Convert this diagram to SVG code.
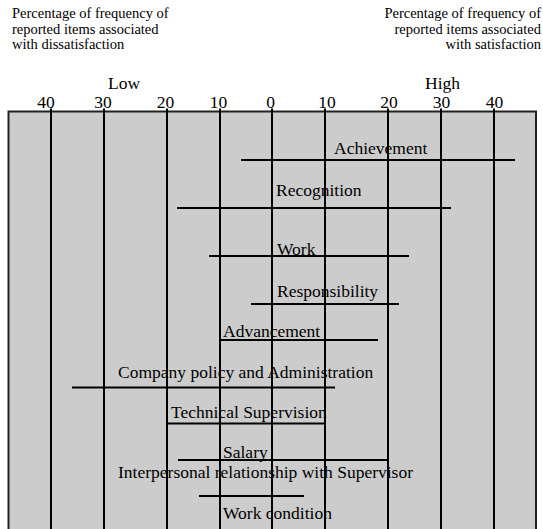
<svg xmlns="http://www.w3.org/2000/svg" width="543" height="529" viewBox="0 0 543 529">
  <style>
    text { font-family: "Liberation Serif", "Times New Roman", serif; fill: #000; }
    .note { font-size: 14.5px; }
    .axis { font-size: 17.5px; }
    .tick { font-size: 17.5px; text-anchor: middle; }
    .label { font-size: 17.5px; }
    .grid { stroke: #000; stroke-width: 2; }
    .bar { stroke: #000; stroke-width: 2; }
  </style>

  <!-- Captions -->
  <g id="caption-left" class="note">
    <text x="12" y="18">Percentage of frequency of</text>
    <text x="12" y="33.5">reported items associated</text>
    <text x="12" y="49">with dissatisfaction</text>
  </g>
  <g id="caption-right" class="note" text-anchor="end">
    <text x="541" y="18">Percentage of frequency of</text>
    <text x="541" y="33.5">reported items associated</text>
    <text x="541" y="49">with satisfaction</text>
  </g>

  <!-- Scale -->
  <g id="scale">
    <text class="axis" x="108" y="88.5">Low</text>
    <text class="axis" x="425" y="88.5">High</text>
    <text class="tick" x="46" y="107.5">40</text>
    <text class="tick" x="103" y="107.5">30</text>
    <text class="tick" x="165.5" y="107.5">20</text>
    <text class="tick" x="218.5" y="107.5">10</text>
    <text class="tick" x="270.5" y="107.5">0</text>
    <text class="tick" x="327" y="107.5">10</text>
    <text class="tick" x="389" y="107.5">20</text>
    <text class="tick" x="441.5" y="107.5">30</text>
    <text class="tick" x="494.5" y="107.5">40</text>
  </g>

  <!-- Plot area -->
  <g id="plot">
    <rect x="8.5" y="111.5" width="527.5" height="430" fill="#cccccc" stroke="#222" stroke-width="2"/>
    <g class="grid">
      <line x1="51" y1="108.5" x2="51" y2="529"/>
      <line x1="104" y1="108.5" x2="104" y2="529"/>
      <line x1="167" y1="108.5" x2="167" y2="529"/>
      <line x1="220" y1="108.5" x2="220" y2="529"/>
      <line x1="272" y1="108.5" x2="272" y2="529"/>
      <line x1="325" y1="108.5" x2="325" y2="529"/>
      <line x1="388" y1="108.5" x2="388" y2="529"/>
      <line x1="441" y1="108.5" x2="441" y2="529"/>
      <line x1="494" y1="108.5" x2="494" y2="529"/>
    </g>
  </g>

  <!-- Factors -->
  <g id="achievement">
    <line class="bar" x1="241" y1="160" x2="515" y2="160"/>
    <text class="label" x="334" y="154">Achievement</text>
  </g>
  <g id="recognition">
    <line class="bar" x1="177" y1="208" x2="451" y2="208"/>
    <text class="label" x="276" y="196">Recognition</text>
  </g>
  <g id="work">
    <line class="bar" x1="209" y1="256" x2="409" y2="256"/>
    <text class="label" x="277" y="254.5">Work</text>
  </g>
  <g id="responsibility">
    <line class="bar" x1="251" y1="304" x2="399" y2="304"/>
    <text class="label" x="277" y="297">Responsibility</text>
  </g>
  <g id="advancement">
    <line class="bar" x1="220" y1="340" x2="378" y2="340"/>
    <text class="label" x="223" y="336.5">Advancement</text>
  </g>
  <g id="company-policy">
    <line class="bar" x1="72" y1="387.5" x2="335" y2="387.5"/>
    <text class="label" x="118" y="378">Company policy and Administration</text>
  </g>
  <g id="technical-supervision">
    <line class="bar" x1="167" y1="423.5" x2="325" y2="423.5"/>
    <text class="label" x="171" y="418">Technical Supervision</text>
  </g>
  <g id="salary">
    <line class="bar" x1="178" y1="460" x2="388" y2="460"/>
    <text class="label" x="223" y="458">Salary</text>
  </g>
  <g id="interpersonal">
    <line class="bar" x1="199" y1="496" x2="304" y2="496"/>
    <text class="label" x="118" y="477.5">Interpersonal relationship with Supervisor</text>
  </g>
  <g id="work-condition">
    <text class="label" x="223" y="518.5">Work condition</text>
  </g>
</svg>
